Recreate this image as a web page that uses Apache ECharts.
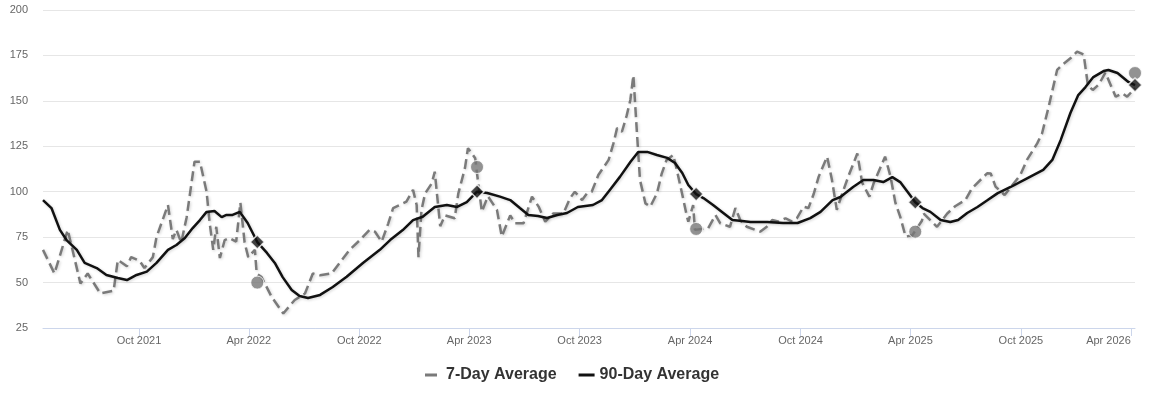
<!DOCTYPE html>
<html>
<head>
<meta charset="utf-8">
<script src="https://cdn.jsdelivr.net/npm/echarts@6/dist/echarts.min.js"></script>
<style>
html,body{margin:0;padding:0;background:#fff;}
#chart{width:1150px;height:401px;}
</style>
</head>
<body>
<div id="chart"></div>
<script>
// ---------- DATA ----------
const sevenDayDates = [
'2021-04-25','2021-05-14','2021-06-05','2021-06-26','2021-07-08','2021-07-29','2021-08-20','2021-08-27','2021-09-11','2021-09-18',
'2021-10-02','2021-10-10','2021-10-24','2021-10-30','2021-11-18','2021-11-26','2021-12-02','2021-12-10','2021-12-19','2022-01-01',
'2022-01-10','2022-01-21','2022-01-26','2022-02-01','2022-02-06','2022-02-12','2022-02-20','2022-02-28','2022-03-11','2022-03-18',
'2022-03-25','2022-03-31','2022-04-11','2022-04-14','2022-04-22','2022-05-09','2022-05-28','2022-06-16','2022-07-03','2022-07-16',
'2022-07-28','2022-08-16','2022-09-02','2022-09-15','2022-10-02','2022-10-18','2022-10-27','2022-11-07','2022-11-18','2022-11-26',
'2022-12-07','2022-12-18','2022-12-29','2023-01-04','2023-01-07','2023-01-12','2023-01-18','2023-01-29','2023-02-03','2023-02-12',
'2023-02-20','2023-03-08','2023-03-14','2023-03-25','2023-03-30','2023-04-11','2023-04-16','2023-04-22','2023-05-02','2023-05-17',
'2023-05-25','2023-06-08','2023-06-16','2023-06-30','2023-07-14','2023-07-25','2023-08-05','2023-08-18','2023-09-04','2023-09-15',
'2023-09-23','2023-10-05','2023-10-13','2023-10-21','2023-11-01','2023-11-18','2023-11-26','2023-12-02','2023-12-10','2023-12-18',
'2023-12-24','2023-12-29','2024-01-04','2024-01-09','2024-01-18','2024-01-26','2024-02-06','2024-02-14','2024-02-22','2024-03-04',
'2024-03-10','2024-03-18','2024-03-27','2024-03-29','2024-04-06','2024-04-09','2024-05-01','2024-05-13','2024-05-21','2024-06-06',
'2024-06-15','2024-06-23','2024-07-04','2024-07-26','2024-08-06','2024-08-15','2024-08-26','2024-09-06','2024-09-17','2024-09-25',
'2024-10-06','2024-10-14','2024-10-23','2024-10-31','2024-11-14','2024-11-22','2024-11-30','2024-12-09','2024-12-20','2025-01-03',
'2025-01-11','2025-01-23','2025-01-30','2025-02-18','2025-02-27','2025-03-07','2025-03-15','2025-03-24','2025-04-04','2025-04-20',
'2025-04-23','2025-05-15','2025-06-01','2025-06-14','2025-07-01','2025-07-12','2025-08-06','2025-08-12','2025-08-20','2025-09-04',
'2025-09-30','2025-10-11','2025-10-28','2025-11-05','2025-11-16','2025-11-30','2025-12-08','2025-12-22','2026-01-02','2026-01-13',
'2026-01-20','2026-01-28','2026-02-07','2026-02-18','2026-03-07','2026-03-18','2026-03-26','2026-04-08'
];
const sevenDayValues = [
68,55,79,49.5,55,44,45.5,62.5,59,64,
62,58,64,75,92.7,74,79,72,86,116.5,
116.5,100,83,68,80.7,63.5,73.4,74.5,72.5,94,
72,64,68,55,53,42,33,40.4,44,55,
54,55,62.4,68,73.4,79,78,72.5,82.6,91,
92.7,94.5,101,92.7,64,90,99,104.6,111,81,
87,85.4,99,113,124,118.4,104.6,89,97.5,90,
75.3,87,82.6,82.6,97.3,91.8,83.5,88,88,96.4,
100,95.4,99,100,109.2,117.5,126.6,135,133,142,
150.5,164,132,106.4,93.6,91.8,99,110,117.5,120.2,
112,100,86,83.5,92.7,79,80,87.2,82.6,80.7,
91,84.4,80.7,78,80.7,84.4,83.5,85.4,83.5,85.4,
91.8,91,99,108.3,119.3,106.4,90,99,109.2,121,
105,97.3,104.6,119.3,108.3,94,86.3,75.3,76,84,
88,80.7,88,92,95.4,101.9,110.1,110,102.8,98.2,
109.2,117.5,126.6,132,146.8,167,169.7,173.4,177.1,175.5,
158.5,156,159,165.5,152.3,154.2,152.3,157
];
const ninetyDayDates = [
'2021-04-25','2021-05-09','2021-05-23','2021-06-03','2021-06-20','2021-07-03','2021-07-23','2021-08-08','2021-08-27','2021-09-11',
'2021-09-27','2021-10-14','2021-10-30','2021-11-18','2021-12-02','2021-12-16','2021-12-29','2022-01-10','2022-01-21','2022-02-03',
'2022-02-15','2022-02-23','2022-03-05','2022-03-17','2022-03-30','2022-04-15','2022-05-01','2022-05-14','2022-05-27','2022-06-11',
'2022-06-24','2022-07-08','2022-07-28','2022-08-18','2022-09-10','2022-10-07','2022-11-04','2022-11-21','2022-12-12','2022-12-29',
'2023-01-14','2023-02-03','2023-02-23','2023-03-12','2023-03-28','2023-04-14','2023-05-01','2023-05-22','2023-06-08','2023-06-24',
'2023-07-08','2023-07-24','2023-08-08','2023-08-25','2023-09-10','2023-09-28','2023-10-23','2023-11-07','2023-11-20','2023-12-07',
'2023-12-24','2024-01-06','2024-01-21','2024-02-06','2024-02-23','2024-03-07','2024-03-19','2024-03-29','2024-04-11','2024-04-23',
'2024-05-09','2024-05-26','2024-06-10','2024-06-26','2024-07-10','2024-08-07','2024-09-02','2024-09-26','2024-10-17','2024-11-03',
'2024-11-23','2024-12-06','2024-12-27','2025-01-13','2025-01-30','2025-02-15','2025-03-02','2025-03-15','2025-03-29','2025-04-09',
'2025-04-21','2025-05-04','2025-05-21','2025-06-06','2025-06-19','2025-07-04','2025-07-21','2025-08-07','2025-08-23','2025-09-14',
'2025-10-12','2025-11-07','2025-11-22','2025-12-06','2025-12-22','2026-01-04','2026-01-16','2026-01-29','2026-02-15','2026-02-23',
'2026-03-10','2026-03-28','2026-04-08'
];
const ninetyDayValues = [
95.4,91,79,73.4,68,60.8,58,54.2,52.5,51.4,
54.2,56,60.8,68,70.7,74.5,80,84.4,88.9,89.4,
86,87.2,87.2,88.9,82.8,72.3,66.3,60.8,53,45.9,
42.6,41.5,43.2,47.6,53.2,60.8,68,73.4,78.9,84.4,
86.2,91.6,92.7,91.6,94.3,100,99.3,97.3,95.4,91,
87.2,86.6,85.5,87.2,88.3,91.6,92.7,95.4,101,108.3,
116.4,121.9,121.9,120.2,118.6,115.8,110.3,103.7,98.7,96.5,
92.7,88.3,84.4,83.9,83.3,83.3,82.8,82.8,85.5,88.9,
95.4,97.1,102.6,106.4,106.4,105.3,108,105.3,99.1,94.2,
91,88.9,84.4,83.3,84.4,88.3,91.6,95.4,99.1,102.6,
107.5,112,117.5,128.5,143.3,153.2,157.6,163.1,166.4,167,
165.3,160.4,158.7
];
const markerDates = ['2022-04-15','2023-04-14','2024-04-11','2025-04-09','2026-04-08'];
const sevenDayMarkers = [50, 113.6, 79.5, 78, 165.3];
const ninetyDayMarkers = [72.3, 100, 98.7, 94.2, 158.7];
const xTickDates = ['2021-10-01','2022-04-01','2022-10-01','2023-04-01','2023-10-01','2024-04-01','2024-10-01','2025-04-01','2025-10-01','2026-04-01'];
const xTickLabels = ['Oct 2021','Apr 2022','Oct 2022','Apr 2023','Oct 2023','Apr 2024','Oct 2024','Apr 2025','Oct 2025','Apr 2026'];
const axisStart = '2021-04-25';
const axisEnd = '2026-04-08';

// ---------- HELPERS ----------
function t(s){ const p = s.split('-').map(Number); return Date.UTC(p[0], p[1]-1, p[2]); }
function pairs(ds, vs){ return ds.map((d,i)=>[t(d), vs[i]]); }
const tickTimes = xTickDates.map(t);
function labelFor(v){
  let best = 0, bd = Infinity;
  tickTimes.forEach((tt,i)=>{ const d = Math.abs(tt - v); if (d < bd){ bd = d; best = i; } });
  return bd < 86400000 ? xTickLabels[best] : '';
}

const shadow = {shadowColor:'rgba(0,0,0,0.18)', shadowBlur:3, shadowOffsetX:1, shadowOffsetY:1};
const fam = '"Liberation Sans", Arial, sans-serif';

const chart = echarts.init(document.getElementById('chart'), null, {renderer:'canvas'});
chart.setOption({
  animation:false,
  backgroundColor:'#fff',
  textStyle:{fontFamily:fam},
  grid:{left:43, right:15, top:10, bottom:73, containLabel:false},
  legend:{
    data:[
      {name:'7-Day Average', icon:'path://M0 0H12V3H0Z M15.99 0H16V0.01H15.99Z', itemStyle:{color:'#7a7a7a'}},
      {name:'90-Day Average', icon:'rect', itemStyle:{color:'#111'}}
    ],
    left:425, top:367, padding:0, itemWidth:16, itemHeight:3, itemGap:22,
    textStyle:{fontSize:16, fontWeight:'bold', color:'#333', fontFamily:fam},
    selectedMode:false
  },
  xAxis:{
    type:'value', min:t(axisStart), max:t(axisEnd), scale:true,
    axisLine:{show:true, onZero:false, lineStyle:{color:'#ccd6eb', width:1}},
    axisTick:{show:true, length:8, lineStyle:{color:'#ccd6eb'}, customValues:tickTimes},
    axisLabel:{customValues:tickTimes, color:'#666', fontSize:11, margin:7, hideOverlap:false, alignMaxLabel:'right',
      formatter:function(v){ return labelFor(v); }},
    splitLine:{show:false}, minorTick:{show:false}
  },
  yAxis:{
    type:'value', min:25, max:200, interval:25,
    axisLine:{show:false}, axisTick:{show:false},
    axisLabel:{color:'#666', fontSize:11, margin:15},
    splitLine:{lineStyle:{color:'#e6e6e6', width:1}}
  },
  series:[
    {name:'7-Day Average', type:'line', data:pairs(sevenDayDates, sevenDayValues), showSymbol:false, symbol:'none',
      lineStyle:Object.assign({color:'#7a7a7a', width:2.5, type:[10,5]}, shadow), itemStyle:{color:'#7a7a7a'}, z:2},
    {name:'90-Day Average', type:'line', data:pairs(ninetyDayDates, ninetyDayValues), showSymbol:false, symbol:'none',
      lineStyle:Object.assign({color:'#111', width:2.5}, shadow), itemStyle:{color:'#111'}, z:3},
    {name:'7-Day Marker', type:'scatter', data:pairs(markerDates, sevenDayMarkers), symbol:'circle', symbolSize:13,
      itemStyle:{color:'#777', borderColor:'#fff', borderWidth:1}, z:5},
    {name:'90-Day Marker', type:'scatter', data:pairs(markerDates, ninetyDayMarkers), symbol:'diamond', symbolSize:[14,14],
      itemStyle:{color:'#111', borderColor:'#fff', borderWidth:1.5}, z:6}
  ]
});
</script>
</body>
</html>
